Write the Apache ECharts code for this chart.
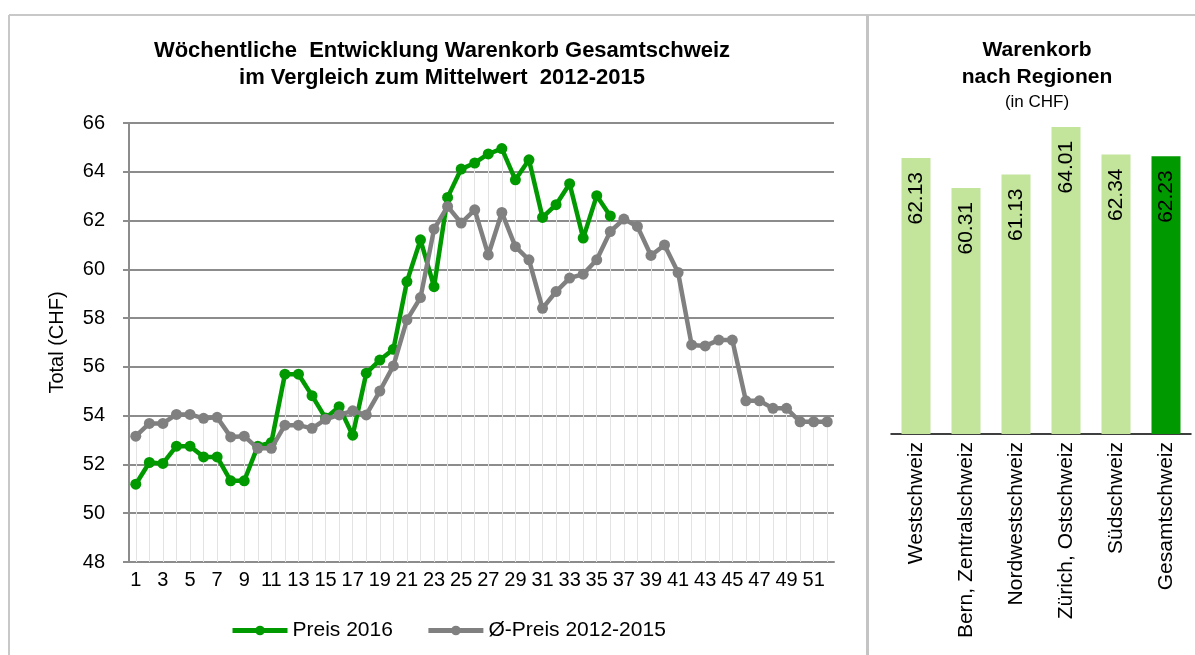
<!DOCTYPE html>
<html>
<head>
<meta charset="utf-8">
<script src="https://cdn.jsdelivr.net/npm/echarts@6/dist/echarts.min.js"></script>
<style>
  html, body { margin: 0; padding: 0; background: #fff; }
  #chart { width: 1195px; height: 655px; }
</style>
</head>
<body>
<div id="chart"></div>
<script>
// Wochen 1..52
var weeks = []
for (var w = 1; w <= 52; w++) weeks.push(String(w))

// Preis 2016 (bis Woche 36)
var preis2016 = [
  51.19, 52.08, 52.04, 52.75, 52.75, 52.31, 52.31, 51.33, 51.33, 52.75,
  52.9, 55.7, 55.7, 54.82, 53.9, 54.37, 53.2, 55.74, 56.28, 56.72,
  59.5, 61.21, 59.29, 62.95, 64.11, 64.36, 64.73, 64.95, 63.67, 64.49,
  62.13, 62.65, 63.51, 61.28, 63.02, 62.19,
  null, null, null, null, null, null, null, null, null, null,
  null, null, null, null, null, null
]

// Ø-Preis 2012-2015
var preisMittel = [
  53.16, 53.68, 53.68, 54.05, 54.05, 53.89, 53.93, 53.13, 53.16, 52.66,
  52.66, 53.61, 53.61, 53.48, 53.85, 54.03, 54.2, 54.03, 55.01, 56.04,
  57.93, 58.84, 61.65, 62.58, 61.9, 62.44, 60.59, 62.33, 60.93, 60.39,
  58.4, 59.09, 59.64, 59.8, 60.39, 61.55, 62.06, 61.76, 60.57, 61.0,
  59.87, 56.9, 56.86, 57.1, 57.1, 54.61, 54.61, 54.3, 54.3, 53.75,
  53.75, 53.75
]

// Warenkorb nach Regionen
var regionen = ['Westschweiz', 'Bern, Zentralschweiz', 'Nordwestschweiz', 'Zürich, Ostschweiz', 'Südschweiz', 'Gesamtschweiz']
var regionWerte = [62.13, 60.31, 61.13, 64.01, 62.34, 62.23]

var font = 'Liberation Sans, Arial, sans-serif'
var green = '#009900'
var grey = '#808080'

// Lotlinien von der Achse bis zum höheren Punkt
var dropLines = weeks.map(function (wk, i) {
  var top = Math.max(preis2016[i] == null ? 0 : preis2016[i], preisMittel[i])
  return [{ coord: [i, 48] }, { coord: [i, top] }]
})

var myChart = echarts.init(document.getElementById('chart'))
var option = {
  animation: false,
  textStyle: { fontFamily: font },
  graphic: [
    { type: 'line', shape: { x1: 9, y1: 15, x2: 1195, y2: 15 }, style: { stroke: '#c8c8c8', lineWidth: 2 } },
    { type: 'line', shape: { x1: 9, y1: 15, x2: 9, y2: 655 }, style: { stroke: '#c8c8c8', lineWidth: 2 } },
    { type: 'line', shape: { x1: 867.5, y1: 15, x2: 867.5, y2: 655 }, style: { stroke: '#c4c4c4', lineWidth: 3 } }
  ],
  title: [{
    text: 'Wöchentliche  Entwicklung Warenkorb Gesamtschweiz\nim Vergleich zum Mittelwert  2012-2015',
    left: 437,
    top: 32,
    textAlign: 'center',
    textStyle: { fontFamily: font, fontSize: 22, fontWeight: 'bold', color: '#000', lineHeight: 27 }
  }, {
    text: '{b|Warenkorb}\n{b|nach Regionen}\n{n|(in CHF)}',
    left: 1032,
    top: 32,
    textAlign: 'center',
    textStyle: {
      fontWeight: 'normal',
      rich: {
        b: { fontFamily: font, fontSize: 21, fontWeight: 'bold', color: '#000', lineHeight: 27, align: 'center' },
        n: { fontFamily: font, fontSize: 17, fontWeight: 'normal', color: '#000', lineHeight: 22, align: 'center' }
      }
    }
  }],
  legend: {
    data: ['Preis 2016', 'Ø-Preis 2012-2015'],
    left: 225,
    top: 615,
    itemWidth: 55,
    itemHeight: 12,
    itemGap: 33,
    lineStyle: { width: 5 },
    textStyle: { fontFamily: font, fontSize: 21, color: '#000' }
  },
  grid: [
    { left: 129, top: 123, width: 705, height: 439 },
    { left: 891, top: 120, width: 300, height: 314 }
  ],
  xAxis: [{
    gridIndex: 0,
    type: 'category',
    data: weeks,
    boundaryGap: true,
    axisLine: { lineStyle: { color: '#8c8c8c', width: 2 } },
    axisTick: { show: false },
    axisLabel: { interval: 1, margin: 8, fontSize: 20, color: '#000', fontFamily: font }
  }, {
    gridIndex: 1,
    type: 'category',
    data: regionen,
    axisLine: { lineStyle: { color: '#000', width: 1.5 } },
    axisTick: { show: false },
    axisLabel: { rotate: 90, margin: 8, fontSize: 21, color: '#000', fontFamily: font, interval: 0 }
  }],
  yAxis: [{
    gridIndex: 0,
    type: 'value',
    min: 48,
    max: 66,
    interval: 2,
    name: 'Total (CHF)',
    nameLocation: 'middle',
    nameGap: 62,
    nameTextStyle: { fontSize: 20, color: '#000', fontFamily: font },
    axisLine: { show: true, lineStyle: { color: '#8c8c8c', width: 2 } },
    axisTick: { show: true, length: 6, lineStyle: { color: '#8c8c8c', width: 2 } },
    axisLabel: { margin: 24, fontSize: 20, color: '#000', fontFamily: font },
    splitLine: { lineStyle: { color: '#8c8c8c', width: 2 } }
  }, {
    gridIndex: 1,
    type: 'value',
    min: 45.4,
    max: 64.43,
    show: false,
    splitLine: { show: false }
  }],
  series: [{
    name: 'Preis 2016',
    type: 'line',
    xAxisIndex: 0,
    yAxisIndex: 0,
    data: preis2016,
    z: 3,
    symbol: 'circle',
    symbolSize: 11,
    showAllSymbol: true,
    connectNulls: false,
    itemStyle: { color: green },
    lineStyle: { color: green, width: 4.5 },
    markLine: {
      silent: true,
      z: 1,
      symbol: ['none', 'none'],
      label: { show: false },
      lineStyle: { color: '#e3e3e3', width: 1, type: 'solid' },
      data: dropLines
    }
  }, {
    name: 'Ø-Preis 2012-2015',
    type: 'line',
    xAxisIndex: 0,
    yAxisIndex: 0,
    data: preisMittel,
    z: 4,
    symbol: 'circle',
    symbolSize: 11,
    showAllSymbol: true,
    itemStyle: { color: grey },
    lineStyle: { color: grey, width: 4.5 }
  }, {
    name: 'Regionen',
    type: 'bar',
    xAxisIndex: 1,
    yAxisIndex: 1,
    barWidth: 29,
    data: regionWerte.map(function (v, i) {
      return { value: v, itemStyle: { color: i === regionWerte.length - 1 ? green : '#c2e49b' } }
    }),
    label: {
      show: true,
      position: 'insideTop',
      rotate: 90,
      align: 'right',
      verticalAlign: 'middle',
      distance: 14,
      fontSize: 21,
      color: '#000',
      fontFamily: font,
      formatter: function (p) { return p.value.toFixed(2) }
    }
  }]
}
myChart.setOption(option)
</script>
</body>
</html>
